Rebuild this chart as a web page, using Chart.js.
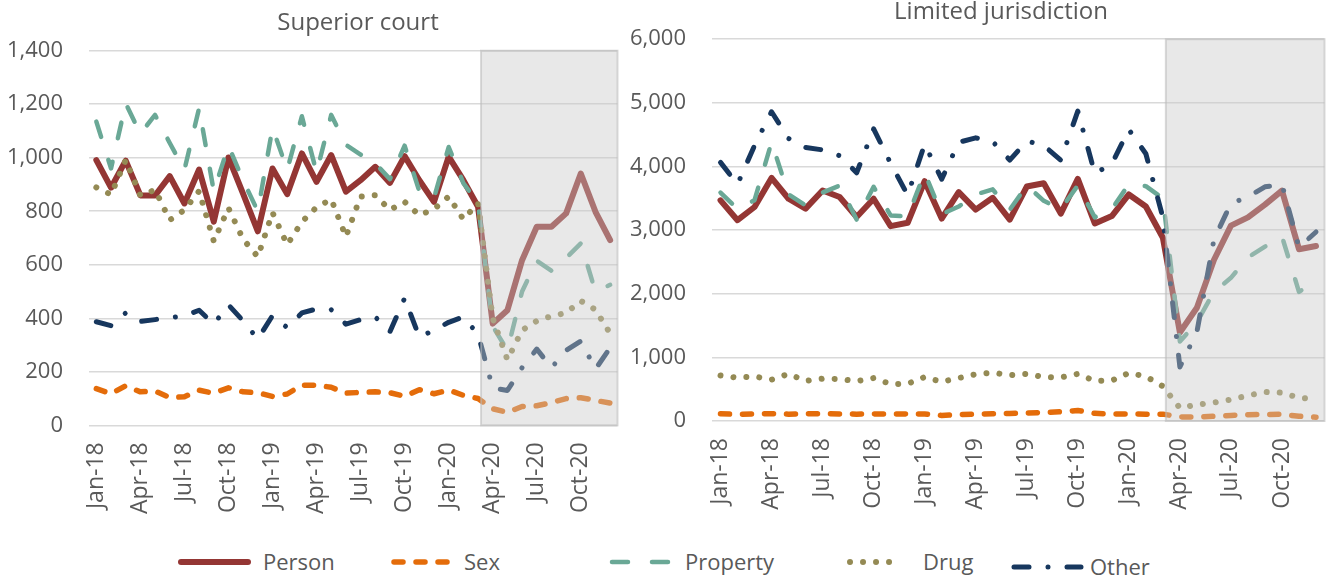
<!DOCTYPE html>
<html>
<head>
<meta charset="utf-8">
<script src="https://cdn.jsdelivr.net/npm/chart.js@4.4.1/dist/chart.umd.min.js"></script>
<style>
  body { margin: 0; background: #fff; }
  #wrap { position: relative; width: 1334px; height: 580px; font-family: 'Open Sans', sans-serif; color: #595959; }
  #superior { position: absolute; left: 0; top: 0; }
  #limited { position: absolute; left: 625px; top: 0; }
  .key-line { position: absolute; }
  .key-text { position: absolute; font-size: 22px; line-height: 22px; white-space: nowrap; }
</style>
</head>
<body>
<div id="wrap">
  <canvas id="superior" width="625" height="540"></canvas>
  <canvas id="limited" width="709" height="540"></canvas>
  <div id="legend"></div>
</div>
<script>
const months = [
  'Jan-18', 'Feb-18', 'Mar-18', 'Apr-18', 'May-18', 'Jun-18', 'Jul-18', 'Aug-18', 'Sep-18', 'Oct-18', 'Nov-18', 'Dec-18',
  'Jan-19', 'Feb-19', 'Mar-19', 'Apr-19', 'May-19', 'Jun-19', 'Jul-19', 'Aug-19', 'Sep-19', 'Oct-19', 'Nov-19', 'Dec-19',
  'Jan-20', 'Feb-20', 'Mar-20', 'Apr-20', 'May-20', 'Jun-20', 'Jul-20', 'Aug-20', 'Sep-20', 'Oct-20', 'Nov-20', 'Dec-20'
];
const tickLabels = ['Jan-18', 'Apr-18', 'Jul-18', 'Oct-18', 'Jan-19', 'Apr-19', 'Jul-19', 'Oct-19', 'Jan-20', 'Apr-20', 'Jul-20', 'Oct-20'];
const shadeStart = 'Mar-20';
const seriesNames = ['Person', 'Sex', 'Property', 'Drug', 'Other'];

// Superior court
const superiorPerson = [991, 888, 989, 859, 859, 931, 829, 956, 761, 1001, 865, 725, 960, 864, 1016, 910, 1010, 873, 916, 966, 906, 1006, 916, 835, 1004, 916, 817, 380, 430, 617, 742, 742, 792, 941, 798, 692];
const superiorSex = [137, 118, 148, 125, 128, 104, 107, 131, 120, 140, 125, 122, 108, 117, 150, 150, 142, 120, 123, 125, 122, 108, 133, 118, 132, 112, 100, 62, 48, 70, 73, 85, 100, 103, 93, 83];
const superiorProperty = [1135, 960, 1203, 1090, 1160, 1055, 955, 1185, 875, 1045, 915, 800, 1112, 955, 1155, 945, 1160, 1048, 1012, 979, 920, 1045, 875, 850, 1040, 905, 830, 370, 280, 500, 615, 578, 625, 680, 500, 525];
const superiorDrug = [889, 862, 991, 859, 880, 767, 805, 875, 688, 812, 695, 630, 795, 675, 760, 815, 845, 705, 855, 860, 805, 835, 785, 808, 855, 770, 830, 400, 245, 355, 390, 408, 420, 465, 432, 343];
const superiorOther = [387, 372, 420, 388, 395, 403, 408, 430, 378, 450, 390, 322, 410, 365, 420, 435, 432, 378, 395, 405, 350, 475, 330, 355, 385, 405, 340, 140, 130, 215, 285, 215, 280, 315, 210, 290];
const superiorTicks = [0, 200, 400, 600, 800, 1000, 1200, 1400];

// Limited jurisdiction
const limitedPerson = [3467, 3156, 3363, 3820, 3493, 3337, 3623, 3520, 3207, 3493, 3062, 3115, 3768, 3181, 3597, 3322, 3508, 3166, 3685, 3737, 3260, 3804, 3104, 3220, 3560, 3370, 2880, 1390, 1780, 2530, 3070, 3200, 3400, 3620, 2700, 2750];
const limitedSex = [112, 105, 110, 115, 108, 112, 115, 110, 108, 112, 110, 112, 110, 88, 100, 108, 115, 118, 125, 135, 145, 165, 120, 110, 110, 108, 108, 65, 62, 75, 88, 100, 102, 105, 75, 60];
const limitedProperty = [3590, 3330, 3470, 4380, 3560, 3390, 3590, 3700, 3166, 3680, 3230, 3215, 3900, 3250, 3370, 3560, 3640, 3320, 3700, 3460, 3330, 3700, 3200, 3330, 3720, 3690, 3500, 1250, 1550, 2030, 2250, 2570, 2740, 2900, 2030, 2200];
const limitedDrug = [715, 680, 700, 650, 740, 630, 665, 660, 625, 675, 580, 585, 690, 615, 675, 735, 760, 720, 740, 690, 685, 740, 630, 635, 755, 700, 545, 205, 255, 290, 335, 400, 455, 445, 365, 340];
const limitedOther = [4064, 3720, 4330, 4860, 4440, 4300, 4260, 4170, 3900, 4590, 4050, 3550, 4350, 3800, 4380, 4450, 4390, 4100, 4400, 4330, 4100, 4870, 3890, 4040, 4580, 4200, 3200, 850, 1400, 2850, 3420, 3520, 3680, 3720, 2730, 2970];
const limitedTicks = [0, 1000, 2000, 3000, 4000, 5000, 6000];

// line looks, same order as seriesNames
const lineStyles = [
  { color: '#943634', width: 6, dash: [] },
  { color: '#E46C0A', width: 5.5, dash: [9, 13] },
  { color: '#6AA896', width: 4.5, dash: [16, 24] },
  { color: '#948A54', width: 6, dash: [0.01, 13] },
  { color: '#17375E', width: 5, dash: [15, 19, 0.01, 19] },
];

Chart.defaults.font.family = "'Open Sans', sans-serif";
Chart.defaults.color = '#595959';

// grey box over the covid months, drawn on top of the lines
const shadePlugin = {
  id: 'shade',
  afterDatasetsDraw(chart) {
    const { ctx, chartArea, scales } = chart;
    const x0 = scales.x.getPixelForValue(months.indexOf(shadeStart)) + 3;
    ctx.save();
    ctx.fillStyle = 'rgba(200, 200, 200, 0.42)';
    ctx.fillRect(x0, chartArea.top, chartArea.right - x0, chartArea.bottom - chartArea.top);
    ctx.strokeStyle = 'rgba(185, 185, 185, 0.55)';
    ctx.lineWidth = 2;
    ctx.strokeRect(x0, chartArea.top, chartArea.right - x0, chartArea.bottom - chartArea.top);
    ctx.restore();
  },
};

const panelTitle = {
  id: 'panelTitle',
  afterDraw(chart, args, opts) {
    const ctx = chart.ctx;
    ctx.save();
    ctx.font = "24px 'Open Sans', sans-serif";
    ctx.fillStyle = '#595959';
    ctx.textAlign = 'center';
    ctx.textBaseline = 'middle';
    ctx.fillText(opts.text, opts.x, opts.y);
    ctx.restore();
  },
};

function makeDatasets(values) {
  return values.map((data, i) => ({
    label: seriesNames[i],
    data: data,
    borderColor: lineStyles[i].color,
    borderWidth: lineStyles[i].width,
    borderDash: lineStyles[i].dash,
    borderCapStyle: 'round',
    borderJoinStyle: 'round',
    pointRadius: 0,
    tension: 0,
    fill: false,
    order: seriesNames.length - i,
  }));
}

function makeChart(id, values, yTicks, opts) {
  new Chart(document.getElementById(id), {
    type: 'line',
    data: { labels: months, datasets: makeDatasets(values) },
    options: {
      responsive: false,
      animation: false,
      layout: { padding: { top: opts.top, right: opts.right, left: 0, bottom: 0 } },
      plugins: {
        legend: { display: false },
        tooltip: { enabled: false },
        panelTitle: { text: opts.title, x: opts.titleX, y: opts.titleY },
      },
      scales: {
        x: {
          offset: true,
          grid: { display: false, drawTicks: false },
          border: { display: false },
          ticks: {
            autoSkip: false,
            minRotation: 90,
            maxRotation: 90,
            padding: 17,
            font: { size: 23 },
            callback: function (value) {
              const label = this.getLabelForValue(value);
              return tickLabels.includes(label) ? label : '';
            },
          },
          afterFit: (scale) => {
            scale.height = opts.xHeight;
            scale.paddingLeft = 0;
            scale.paddingRight = 0;
          },
        },
        y: {
          min: yTicks[0],
          max: yTicks[yTicks.length - 1],
          grid: { color: '#d9d9d9', lineWidth: 1.5, drawTicks: false },
          border: { display: false },
          afterBuildTicks: (scale) => {
            scale.ticks = yTicks.map((v) => ({ value: v }));
          },
          ticks: {
            padding: 26,
            font: { size: 22 },
            callback: (v) => v.toLocaleString('en-US'),
          },
          afterFit: (scale) => {
            scale.width = opts.yWidth;
          },
        },
      },
    },
    plugins: [shadePlugin, panelTitle],
  });
}

makeChart('superior',
  [superiorPerson, superiorSex, superiorProperty, superiorDrug, superiorOther],
  superiorTicks,
  { title: 'Superior court', titleX: 358, titleY: 23, top: 50.7, right: 7.5, yWidth: 89, xHeight: 114.7 });

makeChart('limited',
  [limitedPerson, limitedSex, limitedProperty, limitedDrug, limitedOther],
  limitedTicks,
  { title: 'Limited jurisdiction', titleX: 376, titleY: 12, top: 35.7, right: 9.5, yWidth: 87, xHeight: 119 });

// legend at the bottom, one sample line + text per series
const legendLineX = [[181, 248], [394, 457], [612, 673], [850, 901], [1014, 1081]];
const legendTextX = [263, 464, 685, 923, 1090];
const legendY = [562, 562, 562, 562, 567];
const legend = document.getElementById('legend');
seriesNames.forEach((name, i) => {
  const st = lineStyles[i];
  const [x1, x2] = legendLineX[i];
  const pad = 6;
  const svgNS = 'http://www.w3.org/2000/svg';
  const svg = document.createElementNS(svgNS, 'svg');
  svg.setAttribute('class', 'key-line');
  svg.setAttribute('width', x2 - x1 + pad * 2);
  svg.setAttribute('height', 16);
  svg.style.left = (x1 - pad) + 'px';
  svg.style.top = (legendY[i] - 8) + 'px';
  const line = document.createElementNS(svgNS, 'line');
  line.setAttribute('x1', pad);
  line.setAttribute('x2', x2 - x1 + pad);
  line.setAttribute('y1', 8);
  line.setAttribute('y2', 8);
  line.setAttribute('stroke', st.color);
  line.setAttribute('stroke-width', st.width);
  line.setAttribute('stroke-linecap', 'round');
  if (st.dash.length) line.setAttribute('stroke-dasharray', st.dash.join(' '));
  svg.appendChild(line);
  legend.appendChild(svg);

  const text = document.createElement('div');
  text.className = 'key-text';
  text.textContent = name;
  text.style.left = legendTextX[i] + 'px';
  text.style.top = (legendY[i] - 12) + 'px';
  legend.appendChild(text);
});
</script>
</body>
</html>
